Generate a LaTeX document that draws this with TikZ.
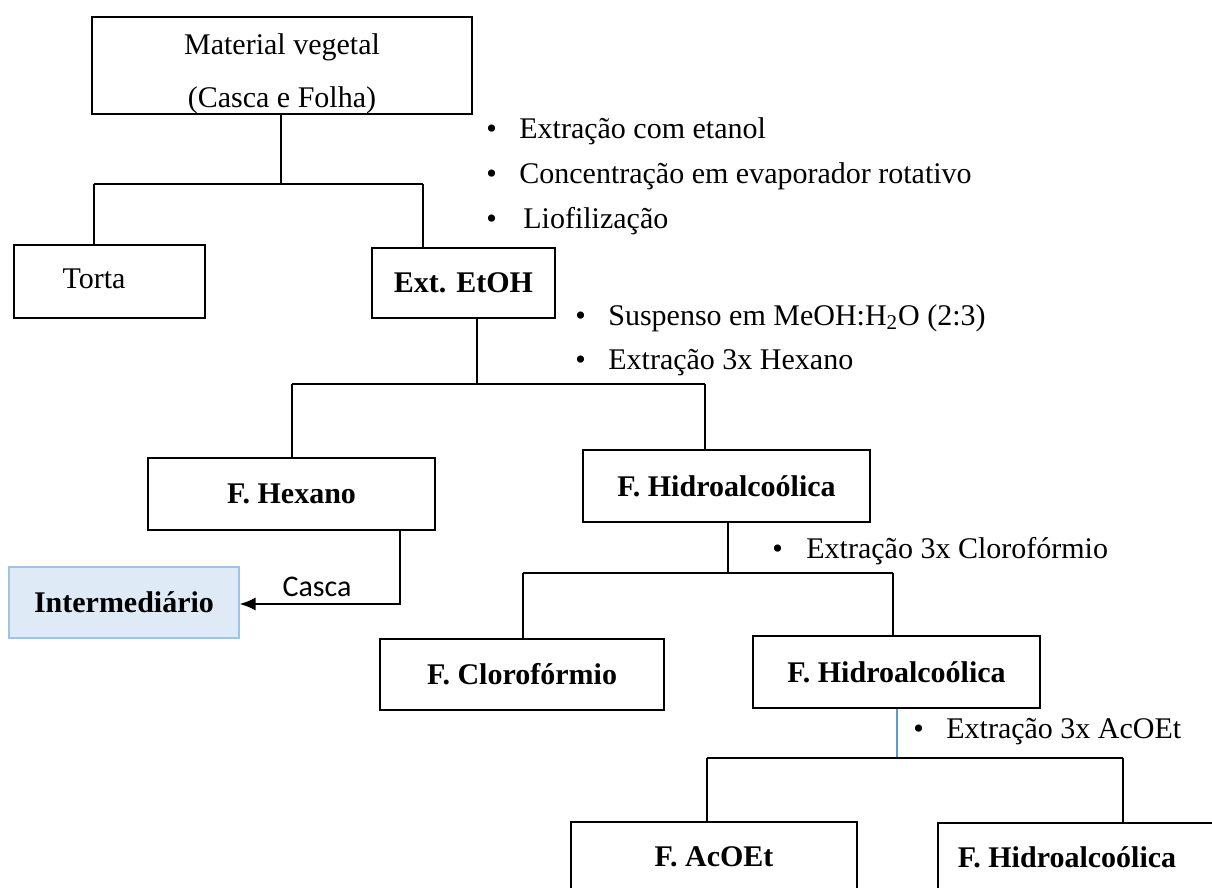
\documentclass[tikz,border=0pt]{standalone}
\usepackage{fontspec}
\setmainfont{Liberation Serif}
\newfontfamily\calibrifont{Carlito}
\usetikzlibrary{arrows.meta}
\definecolor{interfill}{HTML}{DEEBF7}
\definecolor{interdraw}{HTML}{9DC3E6}
\definecolor{stemblue}{HTML}{5B9BD5}
\newcommand{\bulmark}{\makebox[16.5pt][l]{\textbullet}}
\begin{document}
\begin{tikzpicture}[x=0.5pt,y=-0.5pt,
  every node/.style={font=\fontsize{15}{18}\selectfont},
  box/.style={draw, line width=1pt, inner sep=0pt, font=\fontsize{15}{18}\selectfont\bfseries},
  plainbox/.style={draw, line width=1pt, inner sep=0pt},
  txt/.style={inner sep=0pt},
  bullet/.style={anchor=west, inner sep=0pt},
  conn/.style={line width=0.85pt},
  blueconn/.style={line width=0.6pt, draw=stemblue}]
\useasboundingbox (0,0) rectangle (1212,888);

% boxes
\node[plainbox, minimum width=190pt, minimum height=48.5pt] (mat) at (282,65.5) {};
\node[txt, align=center, font=\fontsize{15}{26.5}\selectfont] (mattext) at (282,74) {Material vegetal\\(Casca e Folha)};
\node[plainbox, minimum width=95.5pt, minimum height=36.5pt] (torta) at (109.5,281.5) {};
\node[txt] (tortatext) at (94,279) {Torta};
\node[box, minimum width=91.5pt, minimum height=35pt] (etoh) at (463.5,283) {Ext. EtOH};
\node[box, minimum width=143.5pt, minimum height=36pt] (hex) at (291.5,494) {F. Hexano};
\node[box, minimum width=143.5pt, minimum height=36pt] (hid1) at (726.5,486) {F. Hidroalcoólica};
\node[box, draw=interdraw, fill=interfill, line width=0.6pt, minimum width=115pt, minimum height=35.5pt] (inter) at (124,602.5) {Intermediário};
\node[box, minimum width=142pt, minimum height=35.5pt] (clo) at (522,674.5) {F. Clorofórmio};
\node[box, minimum width=143.5pt, minimum height=36pt] (hid2) at (896.5,672) {F. Hidroalcoólica};
\node[box, minimum width=143pt, minimum height=35pt] (aco) at (714,857) {F. AcOEt};
\node[plainbox, minimum width=146pt, minimum height=34.5pt] (hid3) at (1084,857.5) {};
\node[txt, font=\fontsize{15}{18}\selectfont\bfseries] (hid3text) at (1067,857) {F. Hidroalcoólica};

% bullet texts
\node[bullet] (b1) at (486,131) {\bulmark Extração com etanol};
\node[bullet] (b2) at (486,176) {\bulmark Concentração em evaporador rotativo};
\node[bullet] (b3) at (486,221) {\bulmark\hspace{2pt}Liofilização};
\node[bullet] (b4) at (575,318) {\bulmark Suspenso em MeOH:H\textsubscript{2}O (2:3)};
\node[bullet] (b5) at (575,363) {\bulmark Extração 3x Hexano};
\node[bullet] (b6) at (772,551) {\makebox[17pt][l]{\textbullet}Extração 3x Clorofórmio};
\node[bullet] (b7) at (913,732) {\bulmark Extração 3x AcOEt};

% junctions
\coordinate (j1) at (281,184);
\coordinate (j1l) at (94,184);
\coordinate (j1r) at (423,184);
\coordinate (j2) at (477,384);
\coordinate (j2l) at (292,384);
\coordinate (j2r) at (705,384);
\coordinate (j3) at (728,573);
\coordinate (j3l) at (523,573);
\coordinate (j3r) at (893,573);
\coordinate (j4) at (897,758);
\coordinate (j4l) at (707,758);
\coordinate (j4r) at (1123,758);
\coordinate (ca) at (400,604);

\draw[conn] (mat.south -| j1) -- (j1);
\draw[conn] (j1l) -- (j1r);
\draw[conn] (j1l) -- (j1l |- torta.north);
\draw[conn] (j1r) -- (j1r |- etoh.north);

\draw[conn] (etoh.south -| j2) -- (j2);
\draw[conn] (j2l) -- (j2r);
\draw[conn] (j2l) -- (j2l |- hex.north);
\draw[conn] (j2r) -- (j2r |- hid1.north);

\draw[conn] (hid1.south -| j3) -- (j3);
\draw[conn] (j3l) -- (j3r);
\draw[conn] (j3l) -- (j3l |- clo.north);
\draw[conn] (j3r) -- (j3r |- hid2.north);

\draw[blueconn] (hid2.south -| j4) -- (j4);
\draw[conn] (j4l) -- (j4r);
\draw[conn] (j4l) -- (j4l |- aco.north);
\draw[conn] (j4r) -- (j4r |- hid3.north);

\draw[conn, -{Latex[length=8pt,width=6.5pt]}] (hex.south -| ca) -- (ca) -- (ca -| inter.east);
\node[txt, font=\fontsize{15}{18}\calibrifont] (casca) at (317,587) {Casca};
\end{tikzpicture}
\end{document}
